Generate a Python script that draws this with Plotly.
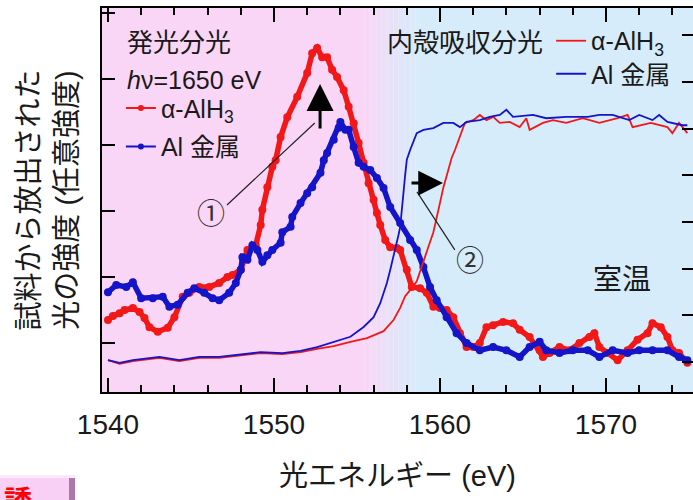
import plotly.graph_objects as go

# ---------------- data ----------------
# Emission spectra (left axis, arbitrary units)
energy_red_em = [1540.0, 1540.3, 1540.7, 1541.0, 1541.5, 1541.9, 1542.2, 1542.5, 1543.0, 1543.6,
                 1544.0, 1544.5, 1544.9, 1545.5, 1546.1, 1546.7, 1547.2, 1547.5, 1548.0, 1548.3,
                 1548.4, 1548.9, 1549.2, 1549.3, 1549.6, 1549.9, 1550.1, 1550.4, 1550.8, 1551.4,
                 1552.0, 1552.3, 1552.6, 1552.9, 1553.2, 1553.5, 1553.8, 1554.2, 1554.5, 1554.8,
                 1555.1, 1555.4, 1555.7, 1556.0, 1556.2, 1556.4, 1556.7, 1557.0, 1557.4, 1557.6,
                 1558.0, 1558.3, 1558.8, 1559.2, 1559.6, 1560.0, 1560.4, 1560.8, 1561.2, 1561.6,
                 1562.0, 1562.4, 1562.8, 1563.2, 1563.8, 1564.4, 1564.8, 1565.4, 1566.0, 1566.2,
                 1566.6, 1567.2, 1567.8, 1568.4, 1569.0, 1569.3, 1569.6, 1570.1, 1570.7, 1571.3,
                 1571.9, 1572.5, 1572.8, 1573.3, 1573.7, 1574.0, 1574.4, 1574.9]
red_em = [1.35, 1.41, 1.45, 1.50, 1.53, 1.47, 1.38, 1.24, 1.17, 1.23,
          1.39, 1.70, 1.76, 1.85, 1.85, 1.91, 2.00, 2.03, 2.11, 2.30,
          2.41, 2.48, 2.79, 3.02, 3.36, 3.67, 3.77, 4.12, 4.42, 4.73,
          5.09, 5.39, 5.47, 5.33, 5.33, 5.14, 5.03, 4.83, 4.58, 4.33,
          4.03, 3.73, 3.42, 3.17, 2.97, 2.79, 2.56, 2.45, 2.44, 2.41,
          2.11, 1.85, 1.83, 1.76, 1.55, 1.53, 1.50, 1.39, 1.15, 0.94,
          0.94, 1.00, 1.24, 1.27, 1.32, 1.30, 1.20, 1.09, 0.89, 0.79,
          0.85, 0.94, 0.89, 1.00, 1.09, 1.15, 0.94, 0.85, 0.74, 0.89,
          1.05, 1.15, 1.30, 1.24, 1.09, 0.89, 0.85, 0.70]

energy_blue_em = [1540.0, 1540.5, 1541.1, 1541.5, 1542.0, 1542.7, 1543.3, 1543.7, 1544.2, 1544.8,
                  1545.2, 1545.8, 1546.3, 1546.7, 1547.3, 1547.7, 1548.0, 1548.1, 1548.4, 1548.7,
                  1549.0, 1549.3, 1549.6, 1549.9, 1550.4, 1550.5, 1551.0, 1551.1, 1551.6, 1552.0,
                  1552.3, 1552.8, 1553.0, 1553.2, 1553.6, 1553.9, 1554.0, 1554.3, 1554.5, 1554.8,
                  1555.1, 1555.4, 1555.8, 1556.2, 1556.6, 1557.0, 1557.6, 1558.2, 1558.6, 1559.0,
                  1559.4, 1559.8, 1560.4, 1561.0, 1561.6, 1562.4, 1563.2, 1564.0, 1564.8, 1565.4,
                  1566.0, 1566.4, 1567.2, 1568.0, 1568.9, 1569.6, 1570.4, 1571.3, 1572.0, 1572.8,
                  1573.7, 1574.4, 1574.9]
blue_em = [1.77, 1.88, 1.85, 1.92, 1.68, 1.68, 1.70, 1.55, 1.58, 1.76,
           1.83, 1.76, 1.68, 1.65, 1.76, 1.91, 2.11, 2.30, 2.26, 2.48,
           2.41, 2.23, 2.33, 2.41, 2.52, 2.68, 2.76, 2.91, 3.12, 3.27,
           3.36, 3.58, 3.77, 3.88, 4.08, 4.26, 4.35, 4.23, 4.23, 3.97,
           3.73, 3.67, 3.62, 3.50, 3.35, 3.06, 2.82, 2.56, 2.41, 2.15,
           1.85, 1.65, 1.39, 1.15, 1.00, 0.89, 0.94, 0.89, 0.79, 0.94,
           1.02, 0.89, 0.85, 0.89, 0.89, 0.79, 0.89, 0.85, 0.89, 0.89,
           0.89, 0.79, 0.74]

# Core-level absorption spectra (right axis, arbitrary units)
energy_red_abs = [1540.0, 1540.7, 1541.5, 1543.1, 1544.3, 1545.5, 1546.7, 1548.0, 1549.2, 1550.5,
                  1551.6, 1552.6, 1553.6, 1554.6, 1555.6, 1556.6, 1557.2, 1557.6, 1557.9, 1558.2,
                  1558.6, 1559.2, 1559.6, 1559.9, 1560.2, 1560.5, 1560.7, 1560.9, 1561.2, 1561.5,
                  1562.0, 1562.4, 1562.8, 1563.2, 1563.6, 1564.2, 1564.8, 1565.2, 1565.4, 1566.2,
                  1566.8, 1567.6, 1568.6, 1569.6, 1570.7, 1571.3, 1571.6, 1572.7, 1573.7, 1574.0,
                  1574.4, 1574.9]
red_abs = [1.04, 0.96, 1.02, 1.09, 1.02, 1.09, 1.09, 1.15, 1.19, 1.17,
           1.21, 1.28, 1.34, 1.43, 1.51, 1.66, 1.90, 2.16, 2.41, 2.54,
           2.73, 3.36, 3.78, 4.25, 4.73, 5.11, 5.37, 5.54, 5.82, 6.12,
           6.18, 6.29, 6.18, 6.25, 6.12, 6.14, 6.03, 6.22, 5.97, 6.12,
           6.18, 6.12, 6.22, 6.12, 6.22, 6.29, 6.03, 6.12, 6.03, 5.90,
           6.12, 5.90]

energy_blue_abs = [1540.0, 1540.7, 1541.5, 1543.1, 1544.3, 1545.5, 1546.7, 1548.0, 1549.2, 1550.5,
                   1551.6, 1552.6, 1553.6, 1554.6, 1555.4, 1556.0, 1556.4, 1556.6, 1556.8, 1557.0,
                   1557.2, 1557.3, 1557.5, 1557.6, 1557.7, 1557.8, 1557.9, 1558.0, 1558.2, 1558.6,
                   1559.0, 1559.6, 1560.2, 1560.8, 1561.2, 1561.6, 1562.4, 1563.0, 1563.6, 1564.0,
                   1564.4, 1565.6, 1566.4, 1567.6, 1568.9, 1569.6, 1570.4, 1571.4, 1572.0, 1572.8,
                   1573.2, 1573.7, 1574.6, 1574.9]
blue_abs = [1.04, 0.98, 1.04, 1.11, 1.04, 1.11, 1.11, 1.17, 1.21, 1.19,
            1.24, 1.32, 1.43, 1.54, 1.75, 1.96, 2.26, 2.48, 2.69, 2.97,
            3.25, 3.40, 3.72, 3.89, 4.36, 4.62, 5.00, 5.33, 5.54, 5.90,
            5.97, 6.01, 6.12, 6.12, 6.03, 6.14, 6.18, 6.25, 6.29, 6.40,
            6.25, 6.29, 6.22, 6.25, 6.25, 6.29, 6.29, 6.18, 6.29, 6.18,
            6.29, 6.14, 6.07, 6.07]

name_red = "α-AlH<sub>3</sub>"
name_blue = "Al 金属"

# ---------------- styling ----------------
RED = "#f21818"
BLUE = "#1414c8"
FONT = "Liberation Sans, Noto Sans CJK JP, sans-serif"
PINK = (250, 214, 246)
SKY = (214, 236, 250)

fig = go.Figure()

# absorption (right axis)
fig.add_trace(go.Scatter(x=energy_red_abs, y=red_abs, yaxis="y2", mode="lines",
                         line=dict(color=RED, width=1.8), name=name_red, legend="legend2"))
fig.add_trace(go.Scatter(x=energy_blue_abs, y=blue_abs, yaxis="y2", mode="lines",
                         line=dict(color=BLUE, width=1.8), name=name_blue, legend="legend3"))

# emission (left axis)
fig.add_trace(go.Scatter(x=energy_red_em, y=red_em, mode="lines+markers",
                         line=dict(color=RED, width=5.5), marker=dict(color=RED, size=8),
                         showlegend=False))
fig.add_trace(go.Scatter(x=energy_blue_em, y=blue_em, mode="lines+markers",
                         line=dict(color=BLUE, width=5.5), marker=dict(color=BLUE, size=8),
                         showlegend=False))

# legend entries for the emission spectra
fig.add_trace(go.Scatter(x=[None], y=[None], mode="lines+markers", name=name_red,
                         line=dict(color=RED, width=2), marker=dict(color=RED, size=6),
                         legend="legend", legendgroup="a"))
fig.add_trace(go.Scatter(x=[None], y=[None], mode="lines+markers", name=name_blue,
                         line=dict(color=BLUE, width=2), marker=dict(color=BLUE, size=6),
                         legend="legend", legendgroup="b"))

# background: pink -> light blue
x_left, x_right = 1539.64, 1575.24
g0, g1 = 1555.3, 1558.8
shapes = [
    dict(type="rect", xref="x", yref="paper", x0=x_left, x1=g0, y0=0, y1=1,
         fillcolor="rgb(%d,%d,%d)" % PINK, line=dict(width=0), layer="below"),
    dict(type="rect", xref="x", yref="paper", x0=g1, x1=x_right, y0=0, y1=1,
         fillcolor="rgb(%d,%d,%d)" % SKY, line=dict(width=0), layer="below"),
]
n = 24
for i in range(n):
    t = (i + 0.5) / n
    c = tuple(round(PINK[k] + (SKY[k] - PINK[k]) * t) for k in range(3))
    shapes.append(dict(type="rect", xref="x", yref="paper",
                       x0=g0 + (g1 - g0) * i / n, x1=g0 + (g1 - g0) * (i + 1) / n + 0.01,
                       y0=0, y1=1, fillcolor="rgb(%d,%d,%d)" % c, line=dict(width=0),
                       layer="below"))
# leader lines for (1) and (2)
shapes.append(dict(type="line", xref="paper", yref="paper", x0=0.2115, y0=0.487,
                   x1=0.360, y1=0.7005, line=dict(color="#222", width=1.2)))
shapes.append(dict(type="line", xref="paper", yref="paper", x0=0.597, y0=0.370,
                   x1=0.533, y1=0.521, line=dict(color="#222", width=1.2)))
# fragment of a button at the bottom-left (with bevel)
shapes.append(dict(type="rect", xref="paper", yref="paper", x0=-0.1726, x1=-0.0457,
                   y0=-0.33, y1=-0.216, fillcolor="rgb(248,208,246)",
                   line=dict(width=0)))
shapes.append(dict(type="rect", xref="paper", yref="paper", x0=-0.0558, x1=-0.0457,
                   y0=-0.33, y1=-0.222, fillcolor="rgb(170,120,170)",
                   line=dict(width=0)))
shapes.append(dict(type="rect", xref="paper", yref="paper", x0=-0.1726, x1=-0.0457,
                   y0=-0.224, y1=-0.216, fillcolor="rgb(252,232,252)",
                   line=dict(width=0)))

annotations = [
    dict(text="発光分光", x=0.039, y=0.909, xref="paper", yref="paper",
         xanchor="left", yanchor="middle", showarrow=False, font=dict(size=26)),
    dict(text="<i>h</i>ν=1650 eV", x=0.039, y=0.8125, xref="paper", yref="paper",
         xanchor="left", yanchor="middle", showarrow=False, font=dict(size=25)),
    dict(text="室温", x=0.880, y=0.292, xref="paper", yref="paper", xanchor="center",
         yanchor="middle", showarrow=False, font=dict(size=29)),
    dict(text="①", x=0.184, y=0.461, xref="paper", yref="paper", xanchor="center",
         yanchor="middle", showarrow=False, font=dict(size=28, color="#333")),
    dict(text="②", x=0.623, y=0.339, xref="paper", yref="paper", xanchor="center",
         yanchor="middle", showarrow=False, font=dict(size=28, color="#333")),
    dict(text="", x=0.369, y=0.802, xref="paper", yref="paper", showarrow=True,
         ax=0, ay=46, arrowhead=2, arrowsize=1.8, arrowwidth=3, arrowcolor="black"),
    dict(text="", x=0.577, y=0.544, xref="paper", yref="paper", showarrow=True,
         ax=-33, ay=0, arrowhead=2, arrowsize=1.65, arrowwidth=3, arrowcolor="black"),
    dict(text="<b>誘</b>", x=-0.142, y=-0.2396, xref="paper", yref="paper",
         xanchor="center", yanchor="top", showarrow=False, font=dict(size=28, color="red")),
]

axis_common = dict(showline=True, linecolor="black", linewidth=1.5, showgrid=False,
                   zeroline=False, ticks="inside", tickcolor="black", tickwidth=1.5)

fig.update_layout(
    width=693, height=500,
    margin=dict(l=102, r=0, t=8, b=108),
    paper_bgcolor="white", plot_bgcolor="white",
    font=dict(family=FONT, size=25, color="#1a1a1a"),
    shapes=shapes, annotations=annotations,
    xaxis=dict(**axis_common, range=[x_left, x_right], tick0=1540, dtick=10, ticklen=14,
               mirror="ticks", tickfont=dict(size=28), ticklabelstandoff=7,
               minor=dict(dtick=2, ticklen=7, ticks="inside", tickcolor="black", tickwidth=1.5),
               title=dict(text="光エネルギー (eV)", font=dict(size=29), standoff=26)),
    yaxis=dict(**axis_common, range=[0.258, 6.076], tick0=1, dtick=1, ticklen=13,
               showticklabels=False,
               title=dict(text="試料から放出された<br>光の強度 (任意強度)", font=dict(size=29),
                          standoff=14)),
    yaxis2=dict(**axis_common, overlaying="y", side="right", range=[0.358, 8.58],
                tick0=1, dtick=1, ticklen=11, showticklabels=False),
    legend=dict(x=0.032, y=0.799, xanchor="left", yanchor="top", bgcolor="rgba(0,0,0,0)",
                font=dict(size=25), tracegroupgap=3, itemwidth=30),
    legend2=dict(x=0.479, y=0.974, xanchor="left", yanchor="top", bgcolor="rgba(0,0,0,0)",
                 font=dict(size=25), itemwidth=30,
                 title=dict(text="内殻吸収分光", side="left", font=dict(size=26))),
    legend3=dict(x=0.760, y=0.8880, xanchor="left", yanchor="top", bgcolor="rgba(0,0,0,0)",
                 font=dict(size=25), itemwidth=30),
)

fig.write_html("out.html")
